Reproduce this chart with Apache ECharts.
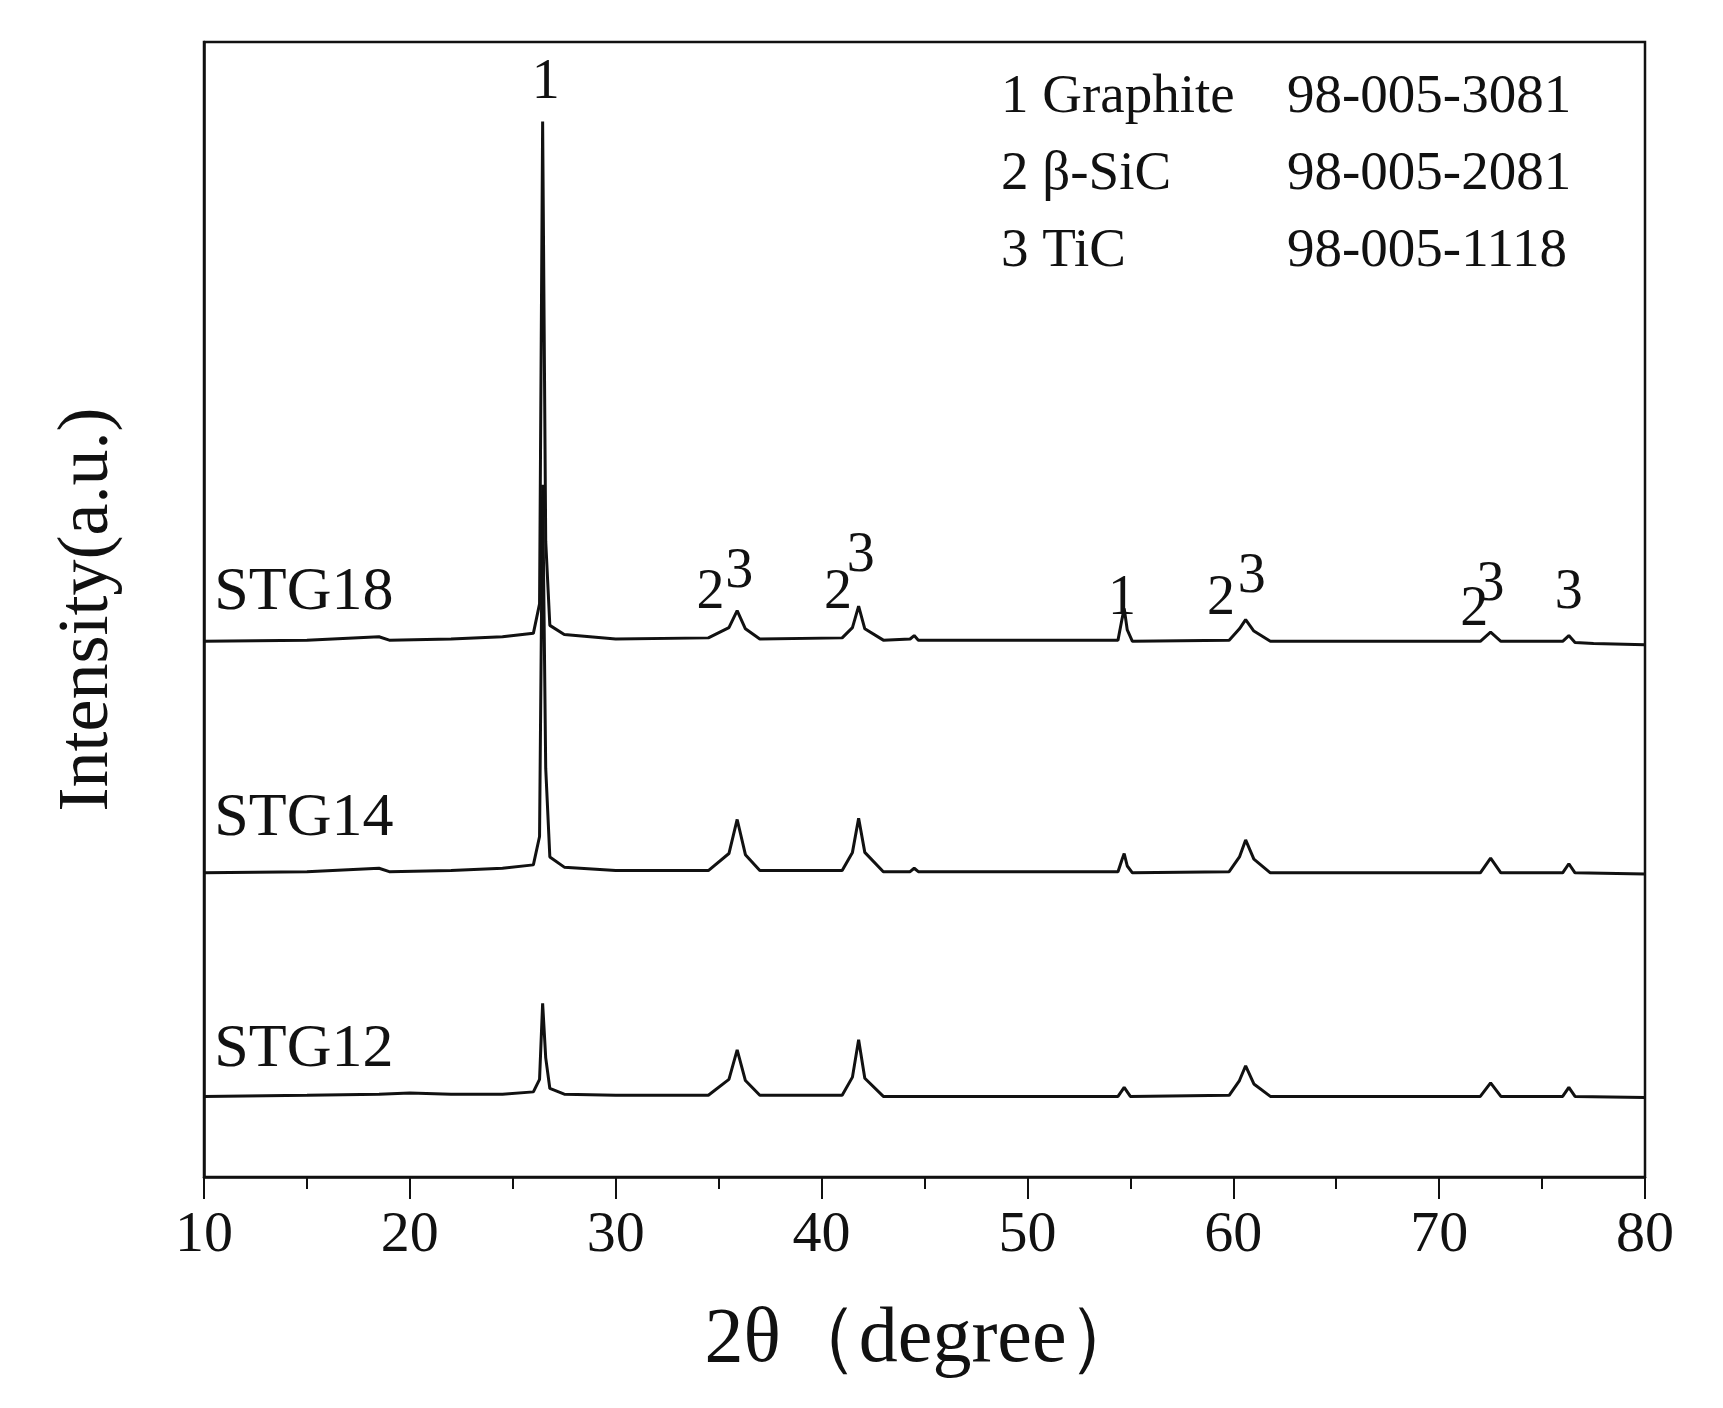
<!DOCTYPE html>
<html>
<head>
<meta charset="utf-8">
<script src="https://cdn.jsdelivr.net/npm/echarts@6/dist/echarts.min.js"></script>
<style>
html,body{margin:0;padding:0;background:#fff}
#chart{width:1723px;height:1408px}
</style>
</head>
<body>
<div id="chart"></div>
<script>
// 2θ / intensity pairs (intensity in arbitrary 0-100 units)
const stg18 = [[10,47.2],[15,47.3],[18.5,47.6],[19,47.3],[22,47.4],[24.5,47.6],[26.0,47.9],[26.3,50.5],[26.45,93],[26.6,56],[26.8,48.6],[27.5,47.8],[30,47.4],[34.5,47.5],[35.5,48.4],[35.9,49.9],[36.3,48.3],[37,47.4],[41,47.5],[41.5,48.4],[41.8,50.3],[42.1,48.3],[43,47.3],[44.3,47.4],[44.5,47.7],[44.7,47.3],[54.4,47.3],[54.6,49.2],[54.7,50.1],[54.85,48.2],[55.1,47.2],[59.8,47.3],[60.3,48.3],[60.6,49.1],[61,48.1],[61.8,47.2],[72,47.2],[72.5,48.0],[73,47.2],[76,47.2],[76.3,47.7],[76.6,47.1],[77.5,47.0],[80,46.9]]
const stg14 = [[10,26.8],[15,26.9],[18.5,27.2],[19,26.9],[22,27.0],[24.5,27.2],[26.0,27.5],[26.3,30],[26.45,61],[26.6,36],[26.8,28.2],[27.5,27.3],[30,27.0],[34.5,27.0],[35.5,28.5],[35.9,31.5],[36.3,28.4],[37,27.0],[41,27.0],[41.5,28.6],[41.8,31.6],[42.1,28.6],[43,26.9],[44.3,26.9],[44.5,27.2],[44.7,26.9],[54.4,26.9],[54.6,28.0],[54.7,28.5],[54.85,27.4],[55.1,26.8],[59.8,26.9],[60.3,28.2],[60.6,29.7],[61,28.0],[61.8,26.8],[72,26.8],[72.5,28.1],[73,26.8],[76,26.8],[76.3,27.6],[76.6,26.8],[80,26.7]]
const stg12 = [[10,7.1],[15,7.2],[18.5,7.3],[20,7.4],[22,7.3],[24.5,7.3],[26.0,7.5],[26.3,8.6],[26.45,15.3],[26.6,10.5],[26.8,7.8],[27.5,7.3],[30,7.2],[34.5,7.2],[35.5,8.6],[35.9,11.2],[36.3,8.5],[37,7.2],[41,7.2],[41.5,8.8],[41.8,12.1],[42.1,8.7],[43,7.1],[54.4,7.1],[54.7,7.9],[55.0,7.1],[59.8,7.2],[60.3,8.5],[60.6,9.8],[61,8.2],[61.8,7.1],[72,7.1],[72.5,8.3],[73,7.1],[76,7.1],[76.3,7.9],[76.6,7.1],[80,7.0]]
const peakMarks = [['1',26.6,96.4],['2',34.6,51.4],['3',36.0,53.3],['2',40.8,51.4],['3',41.9,54.7],['1',54.6,50.9],['2',59.4,50.9],['3',60.9,52.8],['2',71.7,49.9],['3',72.5,52.1],['3',76.3,51.4]]
const sampleNames = [['STG18',10.5,51.5],['STG14',10.5,31.6],['STG12',10.5,11.2]]
const phaseNames = ['1 Graphite', '2 β-SiC', '3 TiC']
const phaseCodes = ['98-005-3081', '98-005-2081', '98-005-1118']

const font = 'Liberation Serif, Times New Roman, serif'
const chart = echarts.init(document.getElementById('chart'))

const line = (data) => ({
    type: 'line', data: data, showSymbol: false, silent: true,
    lineStyle: {color: '#111', width: 3}
})
const textSeries = (items, size, align) => ({
    type: 'scatter', symbolSize: 0, silent: true,
    itemStyle: {color: '#111', opacity: 1},
    data: items.map(d => ({value: [d[1], d[2]], name: d[0]})),
    label: {show: true, position: 'inside', formatter: p => p.name, color: '#111',
        textBorderWidth: 0, fontFamily: font, fontSize: size, align: align}
})

const graphics = []
phaseNames.forEach((n, i) => {
    graphics.push({type: 'text', left: 1001, top: 70 + i * 77, style: {text: n, fontFamily: font, fontSize: 55, fill: '#111'}})
    graphics.push({type: 'text', left: 1287, top: 70 + i * 77, style: {text: phaseCodes[i], fontFamily: font, fontSize: 55, fill: '#111'}})
})

chart.setOption({
    animation: false,
    grid: {left: 204, right: 78, top: 42, bottom: 231, show: true, borderColor: '#111', borderWidth: 2.5, backgroundColor: 'transparent'},
    xAxis: {
        type: 'value', min: 10, max: 80, interval: 10,
        name: '2θ（degree）', nameLocation: 'middle', nameGap: 125,
        nameTextStyle: {fontFamily: font, fontSize: 78, color: '#111'},
        axisLine: {lineStyle: {color: '#111', width: 2.5}},
        axisTick: {length: 22, lineStyle: {color: '#111', width: 2}},
        minorTick: {show: true, splitNumber: 2, length: 12, lineStyle: {color: '#111', width: 2}},
        axisLabel: {fontFamily: font, fontSize: 58, color: '#111', margin: 30},
        splitLine: {show: false}
    },
    yAxis: {
        type: 'value', min: 0, max: 100,
        name: 'Intensity(a.u.)', nameLocation: 'middle', nameGap: 80,
        nameTextStyle: {fontFamily: font, fontSize: 72, color: '#111'},
        axisLine: {show: true, lineStyle: {color: '#111', width: 2.5}},
        axisTick: {show: false}, axisLabel: {show: false}, splitLine: {show: false}
    },
    graphic: graphics,
    series: [line(stg12), line(stg14), line(stg18),
        textSeries(peakMarks, 56, 'center'),
        textSeries(sampleNames, 62, 'left')]
})
</script>
</body>
</html>
